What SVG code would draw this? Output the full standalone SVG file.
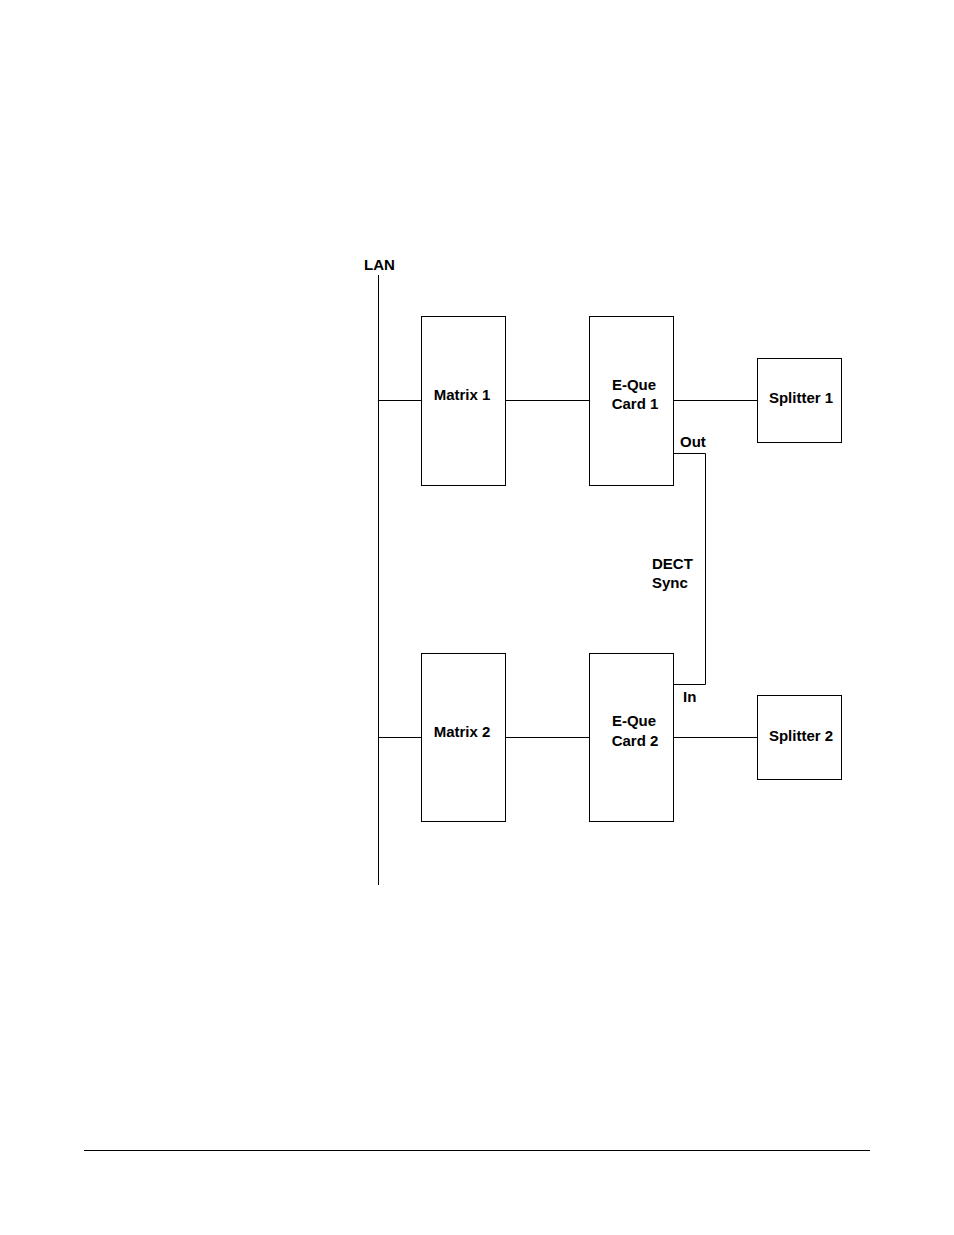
<svg xmlns="http://www.w3.org/2000/svg" width="954" height="1235" viewBox="0 0 954 1235">
<style>
.b{fill:#fff;stroke:#000;stroke-width:1}
.l{fill:none;stroke:#000;stroke-width:1}
text{font-family:"Liberation Sans",Arial,sans-serif;font-size:15px;font-weight:bold;fill:#000}
</style>
<rect width="954" height="1235" fill="#fff"/>
<g id="connectors">
<line class="l" x1="378.5" y1="275" x2="378.5" y2="885"/>
<line class="l" x1="378" y1="400.5" x2="421" y2="400.5"/>
<line class="l" x1="505" y1="400.5" x2="590" y2="400.5"/>
<line class="l" x1="673" y1="400.5" x2="758" y2="400.5"/>
<line class="l" x1="378" y1="737.5" x2="421" y2="737.5"/>
<line class="l" x1="505" y1="737.5" x2="590" y2="737.5"/>
<line class="l" x1="673" y1="737.5" x2="758" y2="737.5"/>
<polyline class="l" points="673,453.5 705.5,453.5 705.5,684.5 673,684.5"/>
<line class="l" x1="84" y1="1150.5" x2="870" y2="1150.5"/>
</g>
<text x="364" y="270">LAN</text>
<g id="matrix1"><rect class="b" x="421.5" y="316.5" width="84" height="169"/><text x="462" y="400" text-anchor="middle">Matrix 1</text></g>
<g id="eque1"><rect class="b" x="589.5" y="316.5" width="84" height="169"/><text x="634" y="390" text-anchor="middle">E-Que</text><text x="635" y="409" text-anchor="middle">Card 1</text></g>
<g id="splitter1"><rect class="b" x="757.5" y="358.5" width="84" height="84"/><text x="801" y="403" text-anchor="middle">Splitter 1</text></g>
<g id="matrix2"><rect class="b" x="421.5" y="653.5" width="84" height="168"/><text x="462" y="737" text-anchor="middle">Matrix 2</text></g>
<g id="eque2"><rect class="b" x="589.5" y="653.5" width="84" height="168"/><text x="634" y="726" text-anchor="middle">E-Que</text><text x="635" y="746" text-anchor="middle">Card 2</text></g>
<g id="splitter2"><rect class="b" x="757.5" y="695.5" width="84" height="84"/><text x="801" y="741" text-anchor="middle">Splitter 2</text></g>
<text x="680" y="447">Out</text>
<text x="683" y="702">In</text>
<text x="652" y="569">DECT</text>
<text x="652" y="588">Sync</text>
</svg>
